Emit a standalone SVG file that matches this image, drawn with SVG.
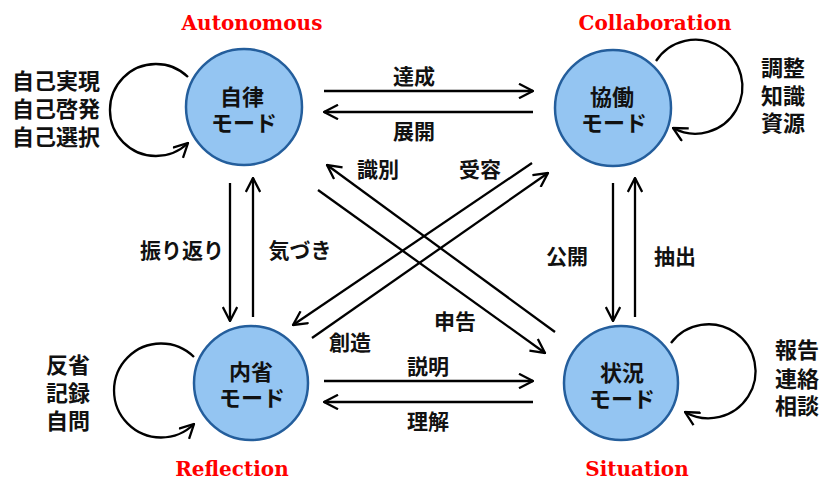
<svg xmlns="http://www.w3.org/2000/svg" width="821" height="481" viewBox="0 0 821 481">
<style>
.node{fill:#94c5f2;stroke:#245e9c;stroke-width:2.5}
.nt{font-family:"Noto Sans CJK JP","Noto Sans",sans-serif;font-weight:bold;font-size:22px;fill:#111;text-anchor:middle}
.lb{font-family:"Noto Sans CJK JP","Noto Sans",sans-serif;font-weight:bold;font-size:21px;fill:#111;text-anchor:middle}
.sl{font-family:"Noto Sans CJK JP","Noto Sans",sans-serif;font-weight:bold;font-size:22px;fill:#111;text-anchor:middle}
.ttl{font-family:"DejaVu Serif","Liberation Serif",serif;font-weight:bold;font-size:20px;fill:#ff0000;text-anchor:middle}
.c{fill:none;stroke:#000;stroke-width:2.3;marker-end:url(#ah)}
</style>
<defs>
<marker id="ah" markerUnits="userSpaceOnUse" markerWidth="16" markerHeight="16" viewBox="0 0 16 16" refX="15" refY="8" orient="auto">
<path d="M1,0.8 L15,8 L1,15.2" fill="none" stroke="#000" stroke-width="2.3"/>
</marker>
</defs>
<rect width="821" height="481" fill="#fff"/>

<g id="connectors">
<line class="c" x1="324" y1="91" x2="533" y2="91"/>
<line class="c" x1="533" y1="112" x2="324" y2="112"/>
<line class="c" x1="324" y1="381" x2="533" y2="381"/>
<line class="c" x1="533" y1="402" x2="324" y2="402"/>
<line class="c" x1="230" y1="183" x2="230" y2="321"/>
<line class="c" x1="253" y1="317" x2="253" y2="178"/>
<line class="c" x1="613" y1="183" x2="613" y2="321"/>
<line class="c" x1="635" y1="317" x2="635" y2="178"/>
<line class="c" x1="555" y1="332" x2="327" y2="165"/>
<line class="c" x1="318" y1="190" x2="545" y2="353"/>
<line class="c" x1="312" y1="338" x2="548" y2="173"/>
<line class="c" x1="532" y1="163" x2="293" y2="325"/>
<path class="c" d="M188,77 A46,46 0 1 0 188,143"/>
<path class="c" d="M656,61 A47,47 0 1 1 673,128"/>
<path class="c" d="M194,357 A47,47 0 1 0 194,424"/>
<path class="c" d="M671,343 A47,47 0 1 1 685,412"/>
</g>

<g id="edge-labels">
<text class="lb" x="414" y="84">達成</text>
<text class="lb" x="414" y="139">展開</text>
<text class="lb" x="428" y="374">説明</text>
<text class="lb" x="428" y="429">理解</text>
<text class="lb" x="182" y="258">振り返り</text>
<text class="lb" x="300" y="258">気づき</text>
<text class="lb" x="567" y="264">公開</text>
<text class="lb" x="675" y="264">抽出</text>
<text class="lb" x="378" y="177">識別</text>
<text class="lb" x="480" y="177">受容</text>
<text class="lb" x="455" y="329">申告</text>
<text class="lb" x="350" y="350">創造</text>
</g>

<g id="node-autonomous">
<circle class="node" cx="244" cy="107" r="58"/>
<text class="nt"><tspan x="242" y="105">自律</tspan><tspan x="244" y="131">モード</tspan></text>
<text class="ttl" x="252" y="30">Autonomous</text>
<text class="sl"><tspan x="56" y="89">自己実現</tspan><tspan x="56" y="117">自己啓発</tspan><tspan x="56" y="145">自己選択</tspan></text>
</g>

<g id="node-collaboration">
<circle class="node" cx="613" cy="108" r="58"/>
<text class="nt"><tspan x="612" y="105">協働</tspan><tspan x="614" y="131">モード</tspan></text>
<text class="ttl" x="655" y="30">Collaboration</text>
<text class="sl"><tspan x="783" y="76">調整</tspan><tspan x="783" y="104">知識</tspan><tspan x="783" y="131">資源</tspan></text>
</g>

<g id="node-reflection">
<circle class="node" cx="251" cy="383" r="57"/>
<text class="nt"><tspan x="251" y="380">内省</tspan><tspan x="252" y="406">モード</tspan></text>
<text class="ttl" x="232" y="476">Reflection</text>
<text class="sl"><tspan x="68" y="373">反省</tspan><tspan x="68" y="401">記録</tspan><tspan x="68" y="429">自問</tspan></text>
</g>

<g id="node-situation">
<circle class="node" cx="621" cy="383" r="57"/>
<text class="nt"><tspan x="622" y="381">状況</tspan><tspan x="622" y="407">モード</tspan></text>
<text class="ttl" x="637" y="476">Situation</text>
<text class="sl"><tspan x="797" y="358">報告</tspan><tspan x="797" y="387">連絡</tspan><tspan x="797" y="414">相談</tspan></text>
</g>
</svg>
